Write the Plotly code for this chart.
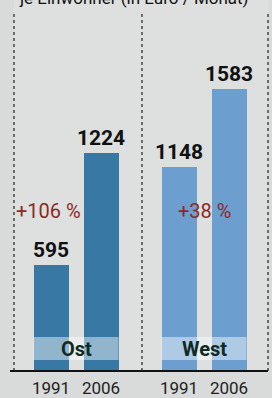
import plotly.graph_objects as go
from plotly.subplots import make_subplots

years = ["1991", "2006"]
ost_values = [595, 1224]
west_values = [1148, 1583]
regions = ["Ost", "West"]
pct_labels = ["+106 %", "+38 %"]
title_text = "je Einwohner (in Euro / Monat)"

FONT = "Roboto, Liberation Sans, sans-serif"
W, H = 272, 398
BASE = 371

fig = make_subplots(rows=1, cols=2, shared_yaxes=True, horizontal_spacing=0)

colors = ["#3779a4", "#6c9fd0"]
for i, vals in enumerate([ost_values, west_values]):
    fig.add_trace(go.Bar(
        x=years, y=vals, width=0.7,
        marker=dict(color=colors[i], line=dict(width=0)),
        text=[str(v) for v in vals], textposition="outside",
        constraintext="none",
        textfont=dict(family=FONT, size=21, color="#111111", weight=700),
        cliponaxis=False, showlegend=False, hoverinfo="skip",
    ), row=1, col=i + 1)

fig.update_xaxes(showgrid=False, zeroline=False, showline=False, ticks="",
                 tickfont=dict(family=FONT, size=17, color="#222222"),
                 ticklabelstandoff=5, type="category")
fig.update_layout(
    xaxis=dict(domain=[14 / W, 142 / W], range=[-0.74, 1.82]),
    xaxis2=dict(domain=[142 / W, 268 / W], range=[-0.74, 1.78]),
    yaxis=dict(range=[0, 2083], visible=False, showgrid=False),
    yaxis2=dict(range=[0, 2083], visible=False, showgrid=False),
    width=W, height=H,
    margin=dict(l=0, r=0, t=0, b=H - BASE),
    paper_bgcolor="#d8dbda", plot_bgcolor="#dde0df",
    bargap=0, showlegend=False,
)

shapes = []
annotations = []
xrefs = ["x", "x2"]
yrefs = ["y", "y2"]
pct_x = [-0.06, 0.5]
for i, reg in enumerate(regions):
    shapes.append(dict(type="rect", xref=xrefs[i], yref=yrefs[i],
                       x0=-0.35, x1=1.35, y0=62, y1=191,
                       fillcolor="rgba(255,255,255,0.45)", line=dict(width=0),
                       layer="above"))
    annotations.append(dict(xref=xrefs[i], yref=yrefs[i], x=0.5, y=126,
                            text=reg, showarrow=False,
                            font=dict(family=FONT, size=20, color="#102a24", weight=700)))
    annotations.append(dict(xref=xrefs[i], yref=yrefs[i], x=pct_x[i], y=900,
                            text=pct_labels[i], showarrow=False,
                            font=dict(family=FONT, size=20, color="#8c2a1f")))

for px in [14, 142, 268]:
    shapes.append(dict(type="line", xref="paper", yref="paper",
                       x0=px / W, x1=px / W, y0=0, y1=1 - 12 / BASE,
                       line=dict(color="#444444", width=1.5, dash="dot")))
shapes.append(dict(type="line", xref="paper", yref="paper",
                   x0=10 / W, x1=268 / W, y0=0, y1=0,
                   line=dict(color="#111111", width=2)))

annotations.append(dict(xref="paper", yref="paper", x=17 / W, y=1 + 2 / BASE,
                        xanchor="left", yanchor="middle", text=title_text,
                        showarrow=False,
                        font=dict(family=FONT, size=17, color="#111111")))

fig.update_layout(shapes=shapes, annotations=annotations)
fig.write_html("out.html", config={"displayModeBar": False, "staticPlot": True},
               post_script="document.body.style.margin='0px';document.body.style.overflow='hidden';")
